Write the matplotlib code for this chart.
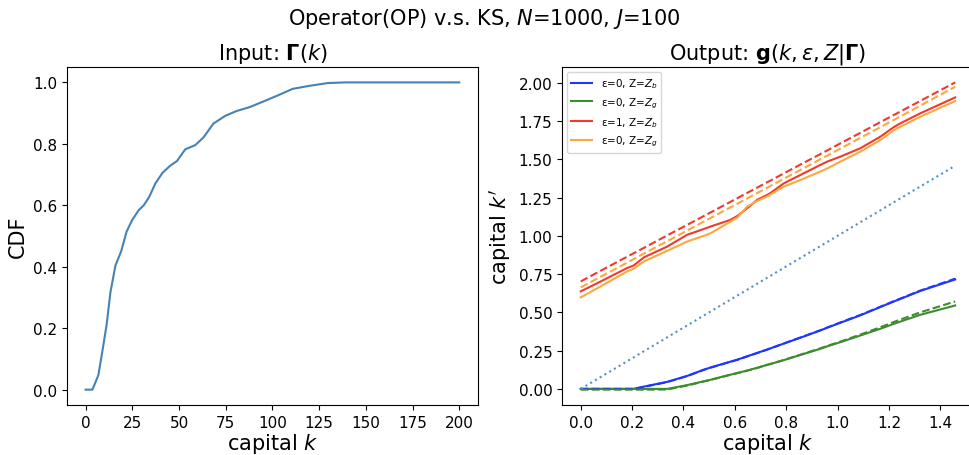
import matplotlib
matplotlib.use("Agg")
import matplotlib.pyplot as plt
from matplotlib.ticker import MultipleLocator
import numpy as np

# ---- Left panel: CDF of capital distribution ----
cdf_k = [0, 3.6, 5, 6.8, 8.9, 11.2, 13.3, 16, 19, 21.9, 24.9, 28.4, 31.1, 34.1, 37.3,
         41.2, 45.3, 48.9, 53.3, 58.7, 63.1, 68.4, 74.7, 80.9, 88, 96, 103, 110.8,
         120, 129.8, 139.6, 200]
cdf_val = [0, 0, 0.02, 0.047, 0.123, 0.21, 0.318, 0.405, 0.45, 0.514, 0.552, 0.584,
           0.60, 0.628, 0.671, 0.706, 0.729, 0.744, 0.782, 0.796, 0.821, 0.866, 0.891,
           0.907, 0.920, 0.940, 0.958, 0.979, 0.989, 0.998, 1.0, 1.0]

# ---- Right panel: policy functions ----
k_grid = [0.0, 0.078, 0.18, 0.206, 0.246, 0.337, 0.415, 0.48, 0.506, 0.583, 0.61,
          0.648, 0.687, 0.726, 0.739, 0.791, 0.856, 0.933, 0.96, 1.011, 1.089,
          1.167, 1.219, 1.245, 1.322, 1.458]

blue_op = [0.0, 0.0, 0.0, 0.0, 0.015, 0.046, 0.085, 0.126, 0.14, 0.178, 0.191,
           0.213, 0.235, 0.257, 0.265, 0.296, 0.335, 0.382, 0.400, 0.432, 0.481,
           0.535, 0.571, 0.588, 0.64, 0.715]
blue_ks = [0.0, 0.0, 0.0, 0.0, 0.013, 0.045, 0.084, 0.125, 0.139, 0.177, 0.190,
           0.212, 0.234, 0.257, 0.265, 0.297, 0.336, 0.383, 0.401, 0.434, 0.483,
           0.537, 0.573, 0.590, 0.642, 0.72]
green_op = [0.0, 0.0, 0.0, 0.0, 0.0, 0.0, 0.025, 0.05, 0.06, 0.093, 0.104, 0.12,
            0.138, 0.157, 0.163, 0.188, 0.222, 0.262, 0.278, 0.305, 0.349, 0.393,
            0.425, 0.44, 0.484, 0.545]
green_ks = [-0.005, -0.005, -0.005, -0.005, -0.005, -0.004, 0.022, 0.049, 0.059,
            0.092, 0.103, 0.119, 0.137, 0.157, 0.163, 0.189, 0.224, 0.265, 0.281,
            0.309, 0.355, 0.403, 0.437, 0.453, 0.5, 0.571]
red_op = [0.637, 0.702, 0.789, 0.806, 0.859, 0.93, 1.007, 1.045, 1.061, 1.104,
          1.13, 1.18, 1.235, 1.267, 1.28, 1.343, 1.398, 1.463, 1.485, 1.517, 1.572,
          1.648, 1.71, 1.735, 1.8, 1.904]
red_ks = [0.702, 0.772, 0.863, 0.886, 0.921, 1.003, 1.072, 1.13, 1.153, 1.222,
          1.246, 1.28, 1.315, 1.35, 1.361, 1.408, 1.466, 1.534, 1.558, 1.604,
          1.673, 1.743, 1.789, 1.812, 1.881, 2.002]
orange_op = [0.598, 0.67, 0.767, 0.785, 0.833, 0.902, 0.963, 1.0, 1.017, 1.093,
             1.12, 1.191, 1.228, 1.257, 1.27, 1.322, 1.365, 1.42, 1.44, 1.485,
             1.55, 1.626, 1.69, 1.713, 1.778, 1.88]
orange_ks = [0.663, 0.733, 0.824, 0.848, 0.884, 0.965, 1.035, 1.094, 1.117, 1.186,
             1.21, 1.244, 1.279, 1.314, 1.326, 1.373, 1.431, 1.5, 1.524, 1.57,
             1.64, 1.71, 1.757, 1.78, 1.85, 1.974]

legend_labels = [r"ε=0, Z=$Z_b$", r"ε=0, Z=$Z_g$", r"ε=1, Z=$Z_b$", r"ε=0, Z=$Z_g$"]
colors = ["#1f36ff", "#3d8c2e", "#ef3b2c", "#fca83e"]

fig = plt.figure(figsize=(9.69, 4.56), dpi=100)
ax1 = fig.add_axes([0.0691, 0.1096, 0.4241, 0.7412])
ax2 = fig.add_axes([0.580, 0.1096, 0.4251, 0.7412])

ax1.plot(cdf_k, cdf_val, color="#4682b4", lw=1.5)
ax1.set_title(r"Input: $\mathbf{\Gamma}(k)$", fontsize=15)
ax1.set_xlabel(r"capital $k$", fontsize=15, labelpad=1)
ax1.set_ylabel("CDF", fontsize=15)
ax1.xaxis.set_major_locator(MultipleLocator(25))

ax2.plot(k_grid, blue_op, color=colors[0], lw=1.5, label=legend_labels[0])
ax2.plot(k_grid, green_op, color=colors[1], lw=1.5, label=legend_labels[1])
ax2.plot(k_grid, red_op, color=colors[2], lw=1.5, label=legend_labels[2])
ax2.plot(k_grid, orange_op, color=colors[3], lw=1.5, label=legend_labels[3])
ax2.plot(k_grid, blue_ks, color=colors[0], lw=1.5, ls="--")
ax2.plot(k_grid, green_ks, color=colors[1], lw=1.5, ls="--")
ax2.plot(k_grid, red_ks, color=colors[2], lw=1.5, ls="--")
ax2.plot(k_grid, orange_ks, color=colors[3], lw=1.5, ls="--")
ax2.plot(k_grid, k_grid, color="#5590c8", lw=1.5, ls=":")
ax2.set_title(r"Output: $\mathbf{g}(k,\varepsilon,Z|\mathbf{\Gamma})$", fontsize=15)
ax2.set_xlabel(r"capital $k$", fontsize=15, labelpad=1)
ax2.set_ylabel(r"capital $k'$", fontsize=15)
ax2.xaxis.set_major_locator(MultipleLocator(0.2))
ax2.yaxis.set_major_locator(MultipleLocator(0.25))
ax2.legend(loc="upper left", fontsize=7.5)

for ax in (ax1, ax2):
    ax.tick_params(labelsize=11)

fig.suptitle(r"Operator(OP) v.s. KS, $N$=1000, $J$=100", fontsize=15, y=0.985)

fig.savefig("out.png", dpi=100)
